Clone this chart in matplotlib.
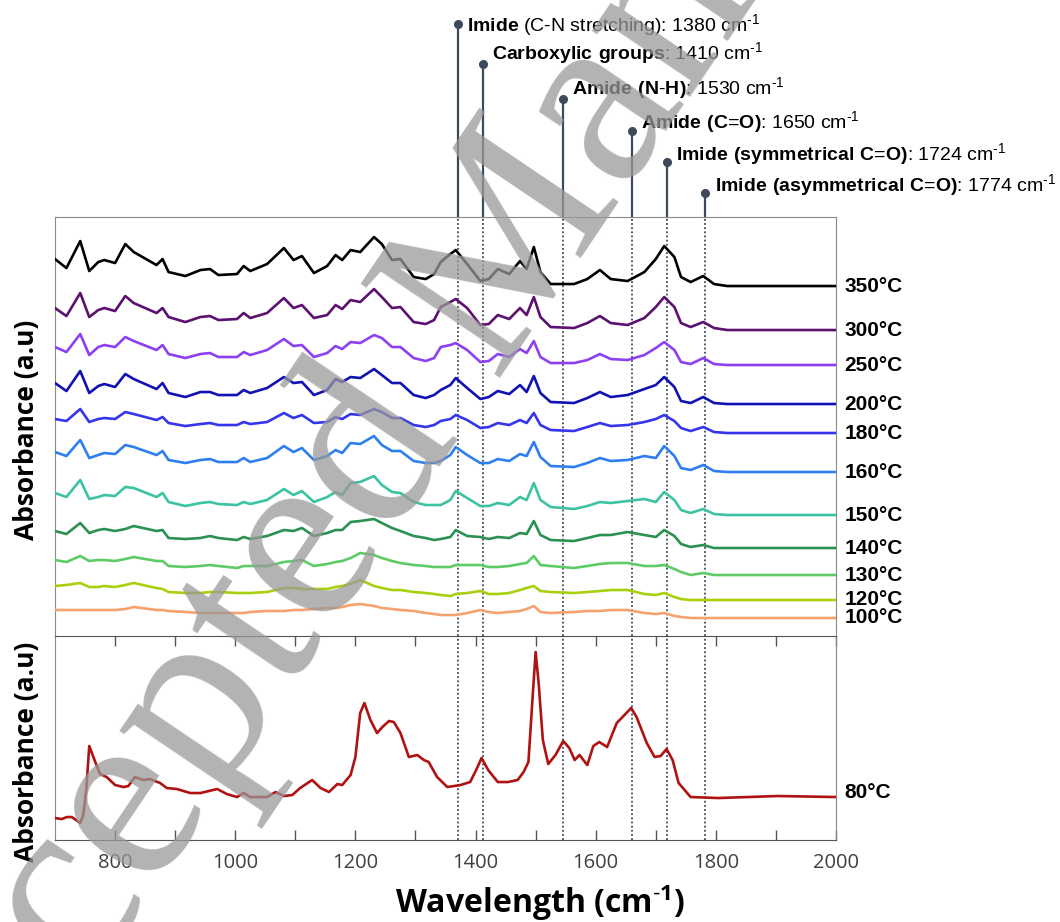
import numpy as np
import matplotlib.pyplot as plt
from matplotlib import transforms

plt.rcParams['mathtext.fontset'] = 'custom'
plt.rcParams['mathtext.rm'] = 'Liberation Sans'
plt.rcParams['mathtext.bf'] = 'Liberation Sans:bold'
plt.rcParams['mathtext.default'] = 'regular'

# --- datos ---
wavenumber = [700, 719, 742, 757, 772, 782, 800, 817, 831, 869, 879, 889, 917, 942, 958, 972,
              1003, 1014, 1025, 1053, 1081, 1097, 1111, 1131, 1153, 1167, 1178, 1192, 1208, 1231,
              1244, 1261, 1275, 1297, 1317, 1331, 1342, 1358, 1367, 1386, 1408, 1422, 1437, 1456,
              1474, 1485, 1497, 1508, 1525, 1564, 1586, 1607, 1625, 1653, 1681, 1700, 1714, 1731,
              1742, 1758, 1779, 1797, 1819, 2000]

a350 = [27, 18, 45, 15, 24, 26, 23, 42, 34, 21, 27, 14, 10, 16, 17, 11, 12, 20, 15, 22, 38, 26,
        30, 13, 20, 31, 26, 36, 34, 49, 42, 26, 27, 9, 7, 12, 24, 32, 36, 22, 5, 7, 17, 12, 25,
        17, 39, 14, 2, 2, 7, 16, 7, 5, 14, 27, 40, 29, 9, 4, 10, 2, 0, 0]
a300 = [22, 14, 37, 13, 20, 22, 19, 34, 27, 17, 22, 13, 8, 13, 14, 10, 11, 17, 12, 17, 32, 22,
        25, 12, 15, 25, 21, 30, 28, 41, 33, 22, 23, 8, 6, 10, 23, 28, 31, 22, 5, 6, 15, 11, 22,
        15, 33, 13, 3, 2, 7, 14, 7, 5, 12, 23, 33, 23, 7, 3, 8, 2, 0, 0]
a250 = [18, 13, 31, 10, 18, 20, 18, 28, 24, 15, 20, 11, 7, 11, 12, 8, 8, 13, 10, 15, 26, 19,
        20, 8, 12, 19, 16, 23, 22, 30, 27, 18, 18, 7, 4, 7, 18, 20, 22, 15, 3, 4, 11, 8, 16,
        12, 24, 8, 2, 2, 5, 11, 6, 5, 10, 17, 23, 15, 3, 1, 7, 1, 0, 0]
a200 = [21, 13, 33, 11, 18, 20, 17, 30, 25, 15, 21, 11, 7, 12, 12, 9, 9, 14, 11, 16, 27, 21,
        22, 9, 14, 25, 22, 27, 26, 35, 29, 21, 21, 9, 6, 9, 14, 19, 26, 16, 5, 7, 13, 10, 19,
        12, 28, 11, 2, 1, 6, 12, 7, 9, 15, 19, 27, 17, 3, 1, 7, 1, 0, 0]
a180 = [14, 12, 24, 11, 14, 15, 14, 21, 19, 13, 16, 10, 7, 9, 10, 8, 8, 11, 9, 11, 20, 15,
        18, 10, 11, 16, 14, 19, 18, 24, 21, 15, 15, 8, 6, 8, 12, 14, 18, 13, 5, 6, 10, 8, 13,
        10, 20, 8, 3, 2, 6, 10, 7, 8, 11, 14, 18, 12, 5, 2, 6, 1, 0, 0]
a160 = [20, 16, 32, 14, 17, 19, 18, 27, 25, 17, 21, 12, 9, 12, 13, 10, 10, 14, 10, 14, 26, 20,
        24, 12, 16, 22, 19, 29, 28, 36, 27, 21, 21, 11, 9, 9, 11, 17, 25, 17, 9, 9, 13, 11, 18,
        16, 30, 15, 6, 5, 9, 14, 11, 12, 16, 14, 26, 16, 4, 2, 7, 1, 0, 0]
a150 = [22, 18, 35, 16, 18, 20, 19, 28, 27, 18, 22, 13, 9, 12, 13, 11, 10, 13, 11, 15, 26, 20,
        24, 13, 18, 23, 20, 32, 33, 39, 30, 23, 22, 13, 10, 10, 10, 15, 24, 17, 9, 9, 12, 10, 18,
        15, 32, 15, 8, 6, 9, 13, 12, 14, 16, 13, 23, 15, 5, 2, 6, 1, 0, 0]
a140 = [17, 14, 25, 15, 18, 19, 17, 19, 22, 17, 18, 10, 9, 10, 12, 10, 8, 11, 9, 12, 18, 17,
        20, 12, 15, 18, 18, 26, 27, 29, 25, 20, 17, 12, 10, 8, 9, 11, 18, 12, 11, 9, 11, 10, 15,
        14, 27, 13, 8, 7, 10, 13, 13, 16, 13, 11, 18, 12, 4, 1, 3, 0, 0, 0]
a130 = [15, 13, 19, 14, 15, 15, 14, 16, 18, 14, 14, 9, 8, 9, 10, 9, 7, 9, 9, 9, 13, 14,
        15, 9, 11, 13, 14, 17, 22, 20, 17, 14, 12, 10, 9, 8, 8, 8, 10, 10, 10, 8, 8, 9, 11,
        12, 19, 10, 9, 7, 9, 11, 12, 12, 9, 9, 10, 6, 3, 0, 2, 0, 0, 0]
a120 = [14, 15, 17, 13, 13, 14, 13, 15, 17, 12, 11, 8, 7, 7, 8, 8, 7, 7, 7, 8, 12, 12,
        11, 11, 11, 13, 14, 16, 20, 14, 12, 10, 10, 8, 7, 6, 5, 4, 6, 7, 9, 6, 6, 7, 10,
        12, 14, 9, 8, 7, 8, 9, 10, 10, 6, 5, 7, 3, 1, 0, 0, 0, 0, 0]
a100 = [8, 8, 8, 8, 8, 8, 8, 9, 11, 8, 8, 7, 6, 5, 5, 5, 5, 5, 6, 7, 7, 8,
        8, 9, 10, 10, 11, 13, 14, 12, 10, 9, 8, 7, 5, 4, 3, 3, 3, 5, 8, 6, 5, 6, 7,
        9, 12, 6, 5, 6, 7, 7, 8, 8, 5, 4, 5, 2, 1, 0, 0, 0, 0, 0]

temps = ['350°C', '300°C', '250°C', '200°C', '180°C', '160°C',
         '150°C', '140°C', '130°C', '120°C', '100°C']
spectra = [a350, a300, a250, a200, a180, a160, a150, a140, a130, a120, a100]
offsets = [350, 306, 271, 232, 203, 164, 121, 88, 61, 36, 18]
colors = ['#000000', '#5c1070', '#8c40f2', '#1212b4', '#3535ec', '#2f7ef0',
          '#3cc3a3', '#2a9150', '#5dcb66', '#a8d00c', '#f5a26e']

wn80 = [700, 711, 720, 728, 742, 747, 752, 757, 767, 775, 786, 800, 814, 822, 833, 847, 858,
        875, 886, 903, 925, 942, 970, 986, 1003, 1014, 1025, 1053, 1067, 1081, 1095, 1108,
        1128, 1142, 1156, 1170, 1178, 1192, 1200, 1208, 1215, 1225, 1236, 1245, 1256, 1264,
        1275, 1289, 1303, 1314, 1322, 1336, 1353, 1375, 1391, 1401, 1410, 1421, 1437, 1454,
        1470, 1480, 1488, 1495, 1500, 1505, 1512, 1521, 1533, 1546, 1556, 1565, 1573, 1586,
        1596, 1606, 1619, 1635, 1659, 1668, 1685, 1698, 1708, 1718, 1728, 1738, 1758, 1804,
        1903, 2000]
a80 = [22, 21, 23, 23, 17, 25, 50, 94, 78, 66, 63, 55, 53, 54, 63, 60, 61, 57, 52, 51, 47, 47,
       51, 46, 43, 47, 43, 43, 48, 44, 45, 52, 60, 52, 48, 56, 55, 65, 83, 127, 137, 120, 107,
       113, 119, 118, 107, 83, 85, 80, 78, 63, 53, 55, 58, 70, 82, 70, 58, 58, 60, 68, 78, 143,
       188, 157, 100, 76, 85, 99, 92, 80, 85, 75, 94, 98, 93, 117, 132, 123, 97, 83, 84, 91, 80,
       57, 43, 42, 44, 43]

# bandas marcadas
band_pos = [1370, 1412, 1545, 1660, 1718, 1782]
sup = r'cm$^{\text{-}1}$'
band_labels = [r'$\mathbf{Imide}$ (C-N stretching): 1380 ' + sup,
               r'$\mathbf{Carboxylic\ groups}$: 1410 ' + sup,
               r'$\mathbf{Amide\ (N}$-$\mathbf{H)}$: 1530 ' + sup,
               r'$\mathbf{Amide\ (C}$=$\mathbf{O)}$: 1650 ' + sup,
               r'$\mathbf{Imide\ (symmetrical\ C}$=$\mathbf{O)}$: 1724 ' + sup,
               r'$\mathbf{Imide\ (asymmetrical\ C}$=$\mathbf{O)}$: 1774 ' + sup]
dot_y = [1.461, 1.365, 1.282, 1.205, 1.131, 1.057]
text_y = [1.458, 1.391, 1.308, 1.227, 1.150, 1.076]

line_col = '#3d4a5c'
spine_col = '#8a8a8a'

fig = plt.figure(figsize=(10.6, 9.22), dpi=100)
ax1 = fig.add_axes([0.0519, 0.3102, 0.7368, 0.4544])
ax2 = fig.add_axes([0.0519, 0.0889, 0.7368, 0.2213])

# panel superior
for y, off, c in zip(spectra, offsets, colors):
    ax1.plot(wavenumber, np.array(y) + off, color=c, lw=1.9, zorder=3,
             solid_joinstyle='round')
for lab, y, off in zip(temps, spectra, offsets):
    ax1.annotate(lab, xy=(2000, off + y[-1]), xytext=(6, 0), textcoords='offset points',
                 ha='left', va='center', fontsize=15, fontweight='bold',
                 family='Liberation Sans', annotation_clip=False)
ax1.set_xlim(700, 2000)
ax1.set_ylim(0, 419)
ax1.set_xticks([])
ax1.set_yticks([])
for s in ['left', 'right', 'top']:
    ax1.spines[s].set_color(spine_col)
ax1.spines['bottom'].set_visible(False)

# panel inferior
ax2.plot(wn80, a80, color='#b01212', lw=1.9, zorder=3, solid_joinstyle='round')
ax2.annotate('80°C', xy=(2000, a80[-1]), xytext=(6, 3), textcoords='offset points',
             ha='left', va='center', fontsize=15, fontweight='bold',
             family='Liberation Sans', annotation_clip=False)
ax2.set_xlim(700, 2000)
ax2.set_ylim(0, 204)
ax2.set_yticks([])
ticks = list(range(800, 2001, 100))
ax2.set_xticks(ticks)
ax2.set_xticklabels([str(t) if t % 200 == 0 else '' for t in ticks],
                    family='Open Sans', fontsize=14.5, color='#404040')
ax2.tick_params(axis='x', direction='in', top=True, length=7, width=1,
                color='#555555', pad=9)
for s in ['left', 'right']:
    ax2.spines[s].set_color(spine_col)
for s in ['top', 'bottom']:
    ax2.spines[s].set_color('#555555')

# lineas de bandas
trans = transforms.blended_transform_factory(ax1.transData, ax1.transAxes)
for x, lab, yd, yt in zip(band_pos, band_labels, dot_y, text_y):
    ax1.axvline(x, color=line_col, lw=1.3, ls=(0, (1, 1.3)), zorder=2)
    ax2.axvline(x, color=line_col, lw=1.3, ls=(0, (1, 1.3)), zorder=2)
    ax1.plot([x, x], [1, yd], color=line_col, lw=1.6, transform=trans, clip_on=False)
    ax1.plot([x], [yd], 'o', ms=5.5, color=line_col, transform=trans, clip_on=False)
    ax1.annotate(lab, xy=(x, yt), xycoords=trans, xytext=(7, 0), textcoords='offset points',
                 ha='left', va='center', fontsize=14, family='Liberation Sans',
                 annotation_clip=False)

fig.text(27 / 1060, 1 - 430 / 922, 'Absorbance (a.u)', rotation=90, ha='center', va='center',
         family='Open Sans', fontweight='bold', fontsize=19)
fig.text(27 / 1060, 1 - 752 / 922, 'Absorbance (a.u)', rotation=90, ha='center', va='center',
         family='Open Sans', fontweight='bold', fontsize=19)
fig.text(540 / 1060, 1 - 903 / 922, r'Wavelength (cm$^{\text{-}1}$)', ha='center', va='center',
         family='Open Sans', fontweight='bold', fontsize=23)

# marca de agua
fig.text(534 / 1060, 1 - 327 / 922, 'Accepted Manuscript', rotation=56, rotation_mode='anchor',
         ha='center', va='baseline', fontsize=184, family='Liberation Serif',
         color='#999999', alpha=0.75, zorder=10)

fig.savefig('out.png', dpi=100)
